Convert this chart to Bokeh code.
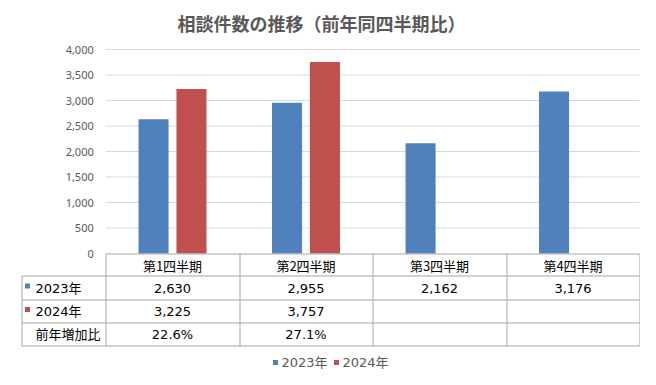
from bokeh.plotting import figure
from bokeh.models import Range1d
from bokeh.core.properties import value
from bokeh.embed import file_html
from bokeh.resources import INLINE
import numpy as np

# ---- data ----
categories = ["第1四半期", "第2四半期", "第3四半期", "第4四半期"]
series_names = ["2023年", "2024年"]
values_2023 = [2630, 2955, 2162, 3176]
values_2024 = [3225, 3757, None, None]
y_ticks = [0, 500, 1000, 1500, 2000, 2500, 3000, 3500, 4000]
title_text = "相談件数の推移（前年同四半期比）"
ratio_label = "前年増加比"

# ---- style / layout ----
colors = ["#4F81BD", "#C0504D"]
grid_color = "#D9D9D9"
table_color = "#A6A6A6"
gray_text = "#595959"
W, H = 640, 369
PAGE_L, PAGE_T = 2, 4         # reference coordinate shown at the figure's top-left corner
PX_CAT = 133.5
X_LEFT_PAGE = 107.25          # x of category axis start (x = -0.5)
PX_VAL = 204 / 4000
Y0_PAGE = 257                 # y of value 0
x_start = -0.5 - (X_LEFT_PAGE - PAGE_L) / PX_CAT
x_end = x_start + W / PX_CAT
y_end = (Y0_PAGE - PAGE_T) / PX_VAL
y_start = y_end - H / PX_VAL

CJK = value("'Noto Sans CJK JP'")
NUM = value("'DejaVu Sans', 'Noto Sans CJK JP'")

p = figure(width=W, height=H, x_range=Range1d(x_start, x_end), y_range=Range1d(y_start, y_end),
           output_backend="svg", toolbar_location=None, min_border=0,
           x_axis_location=None, y_axis_location=None)
p.grid.visible = False
p.outline_line_color = None
p.background_fill_color = "white"
p.border_fill_color = "white"
p.extra_x_ranges = {"page": Range1d(PAGE_L, PAGE_L + W)}
p.extra_y_ranges = {"page": Range1d(PAGE_T + H, PAGE_T)}

n = len(categories)
idx = np.arange(n)

# gridlines (values > 0)
gt = [t for t in y_ticks if t > 0]
p.segment(x0=[-0.5] * len(gt), x1=[n - 0.5] * len(gt), y0=gt, y1=gt,
          line_color=grid_color, line_width=1)

# y tick labels
p.text(x=[-0.5] * len(y_ticks), y=y_ticks, text=[f"{t:,}" for t in y_ticks],
       x_offset=-12, text_align="right", text_baseline="middle",
       text_font=value("'Noto Sans'"), text_font_size="11px", text_color=gray_text)

# bars
off, bw = 0.142, 0.225
p.vbar(x=idx - off, top=values_2023, width=bw, fill_color=colors[0], line_color=None)
m = [i for i, v in enumerate(values_2024) if v is not None]
p.vbar(x=[i + off for i in m], top=[values_2024[i] for i in m], width=bw,
       fill_color=colors[1], line_color=None)

# ---- data table (reference-pixel coordinates) ----
col_edges = [X_LEFT_PAGE + PX_CAT * k for k in range(n + 1)]
col_centers = [X_LEFT_PAGE + PX_CAT * (k + 0.5) for k in range(n)]
row_edges = [257.5, 279.5, 303.5, 326.5, 349.5]
label_left = 23.5
kw = dict(x_range_name="page", y_range_name="page")

hx0 = [col_edges[0]] + [label_left] * 4
hx1 = [col_edges[-1]] * 5
p.segment(x0=hx0, x1=hx1, y0=row_edges, y1=row_edges, line_color=table_color, line_width=1, **kw)
vx = [label_left] + [round(e) + 0.5 for e in col_edges]
vy0 = [row_edges[1]] + [row_edges[0]] * (n + 1)
vy1 = [row_edges[-1]] * (n + 2)
p.segment(x0=vx, x1=vx, y0=vy0, y1=vy1, line_color=table_color, line_width=1, **kw)

hdr_y = (row_edges[0] + row_edges[1]) / 2
p.text(x=col_centers, y=[hdr_y] * n, text=categories, text_align="center", text_baseline="middle",
       text_font=CJK, text_font_size="13px", text_color="#000000", **kw)

row_y = [(row_edges[i] + row_edges[i + 1]) / 2 for i in range(1, 4)]
ratios = [f"{(b / a - 1) * 100:.1f}%" if b is not None else "" for a, b in zip(values_2023, values_2024)]
rows = [
    [f"{v:,}" for v in values_2023],
    [f"{v:,}" if v is not None else "" for v in values_2024],
    ratios,
]
for r, cells in enumerate(rows):
    p.text(x=col_centers, y=[row_y[r]] * n, text=cells, text_align="center", text_baseline="middle",
           text_font=NUM, text_font_size="13px", text_color="#000000", **kw)

p.text(x=[37] * 3, y=row_y, text=series_names + [ratio_label], text_align="left", text_baseline="middle",
       text_font=NUM, text_font_size="13px", text_color="#000000", **kw)
p.rect(x=[29, 29], y=[row_y[0] - 2, row_y[1] - 2], width=5, height=5, width_units="screen",
       height_units="screen", fill_color=colors, line_color=None, **kw)

# ---- legend ----
leg_y = 366
p.rect(x=[277, 338], y=[leg_y, leg_y], width=5, height=5, width_units="screen", height_units="screen",
       fill_color=colors, line_color=None, **kw)
p.text(x=[283, 344], y=[leg_y, leg_y], text=series_names, text_align="left", text_baseline="middle",
       text_font=NUM, text_font_size="13px", text_color=gray_text, **kw)

# ---- title ----
p.text(x=[323], y=[26], text=[title_text], text_align="center", text_baseline="middle",
       text_font=CJK, text_font_size="18px", text_font_style="bold", text_color=gray_text, **kw)

open("out.html", "w").write(file_html(p, INLINE))
